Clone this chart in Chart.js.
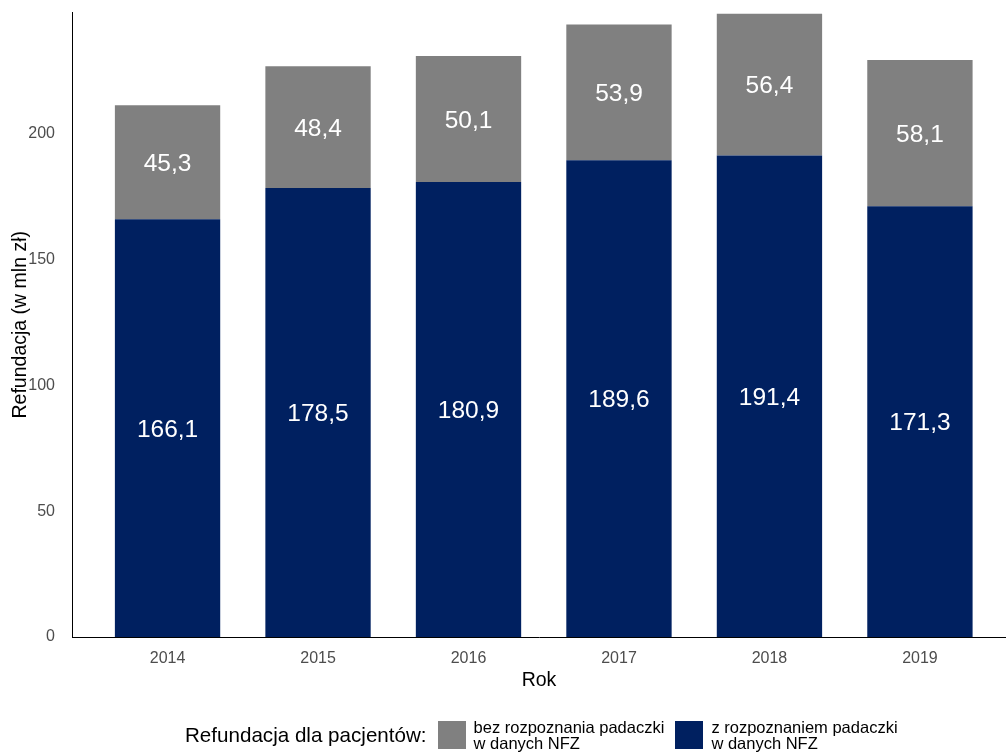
<!DOCTYPE html>
<html lang="pl">
<head>
<meta charset="utf-8">
<title>Refundacja</title>
<script src="https://cdn.jsdelivr.net/npm/chart.js@4/dist/chart.umd.min.js"></script>
<style>
  body { margin: 0; background: #fff; font-family: "Liberation Sans", Arial, sans-serif; }
  #wrap { position: relative; width: 1006px; height: 754px; }
  #legend { position: absolute; left: 185px; top: 719px; height: 32px; display: flex; align-items: center; color: #000; }
  #legend .title { font-size: 20.6px; margin-right: 11px; }
  #legend .box { width: 28px; height: 28px; margin-right: 8px; }
  #legend .lbl { font-size: 16.5px; line-height: 16px; margin-right: 11px; }
</style>
</head>
<body>
<div id="wrap">
  <canvas id="chartRefundacja" width="1006" height="754"></canvas>
  <div id="legend">
    <span class="title">Refundacja dla pacjentów:</span>
    <span class="box" style="background:#808080"></span>
    <span class="lbl">bez rozpoznania padaczki<br>w danych NFZ</span>
    <span class="box" style="background:#002060"></span>
    <span class="lbl">z rozpoznaniem padaczki<br>w danych NFZ</span>
  </div>
</div>
<script>
// Refundacja (mln zł) per year
const years = ['2014', '2015', '2016', '2017', '2018', '2019'];
const withDiagnosis = [166.1, 178.5, 180.9, 189.6, 191.4, 171.3];
const withoutDiagnosis = [45.3, 48.4, 50.1, 53.9, 56.4, 58.1];
const yTicks = [0, 50, 100, 150, 200];

const fontFamily = '"Liberation Sans", Arial, sans-serif';

function toPoints(values) {
    return values.map((v, i) => ({ x: i, y: v }));
}

// white value labels centred in each bar segment
const segmentLabels = {
    id: 'segmentLabels',
    afterDatasetsDraw(chart) {
        const ctx = chart.ctx;
        ctx.save();
        ctx.fillStyle = '#ffffff';
        ctx.font = '24.5px ' + fontFamily;
        ctx.textAlign = 'center';
        ctx.textBaseline = 'middle';
        chart.data.datasets.forEach((ds, di) => {
            chart.getDatasetMeta(di).data.forEach((bar, i) => {
                const text = ds.data[i].y.toFixed(1).replace('.', ',');
                ctx.fillText(text, bar.x, (bar.y + bar.base) / 2 + 2);
            });
        });
        ctx.restore();
    }
};

new Chart(document.getElementById('chartRefundacja'), {
    type: 'bar',
    data: {
        datasets: [{
            label: 'z rozpoznaniem padaczki w danych NFZ',
            data: toPoints(withDiagnosis),
            backgroundColor: '#002060'
        }, {
            label: 'bez rozpoznania padaczki w danych NFZ',
            data: toPoints(withoutDiagnosis),
            backgroundColor: '#808080'
        }]
    },
    options: {
        responsive: false,
        animation: false,
        barPercentage: 0.7,
        categoryPercentage: 1,
        layout: {
            padding: { top: 12.5, right: 0, bottom: 57, left: 0 }
        },
        plugins: {
            legend: { display: false },
            tooltip: { enabled: false }
        },
        scales: {
            x: {
                type: 'linear',
                stacked: true,
                offset: false,
                min: -0.635,
                max: 5.572,
                grid: { display: false },
                border: { display: true, color: '#000000', width: 1 },
                afterBuildTicks: axis => { axis.ticks = years.map((y, i) => ({ value: i })); },
                afterFit: axis => {
                    axis.height = 60;
                    axis.paddingLeft = 0;
                    axis.paddingRight = 0;
                },
                ticks: {
                    color: '#4d4d4d',
                    padding: 4,
                    font: { family: fontFamily, size: 16 },
                    callback: v => years[v]
                },
                title: {
                    display: true,
                    text: 'Rok',
                    color: '#000000',
                    font: { family: fontFamily, size: 19.5 },
                    padding: { top: 0, bottom: 5 }
                }
            },
            y: {
                stacked: true,
                min: 0,
                max: 248.3,
                grid: { display: false },
                border: { display: true, color: '#000000', width: 1 },
                afterBuildTicks: axis => { axis.ticks = yTicks.map(v => ({ value: v })); },
                afterFit: axis => {
                    axis.width = 72;
                    axis.paddingTop = 0;
                    axis.paddingBottom = 0;
                },
                ticks: {
                    color: '#4d4d4d',
                    padding: 9,
                    font: { family: fontFamily, size: 16 }
                },
                title: {
                    display: true,
                    text: 'Refundacja (w mln zł)',
                    color: '#000000',
                    font: { family: fontFamily, size: 19.5 },
                    padding: { top: 9, bottom: 0 }
                }
            }
        }
    },
    plugins: [segmentLabels]
});
</script>
</body>
</html>
